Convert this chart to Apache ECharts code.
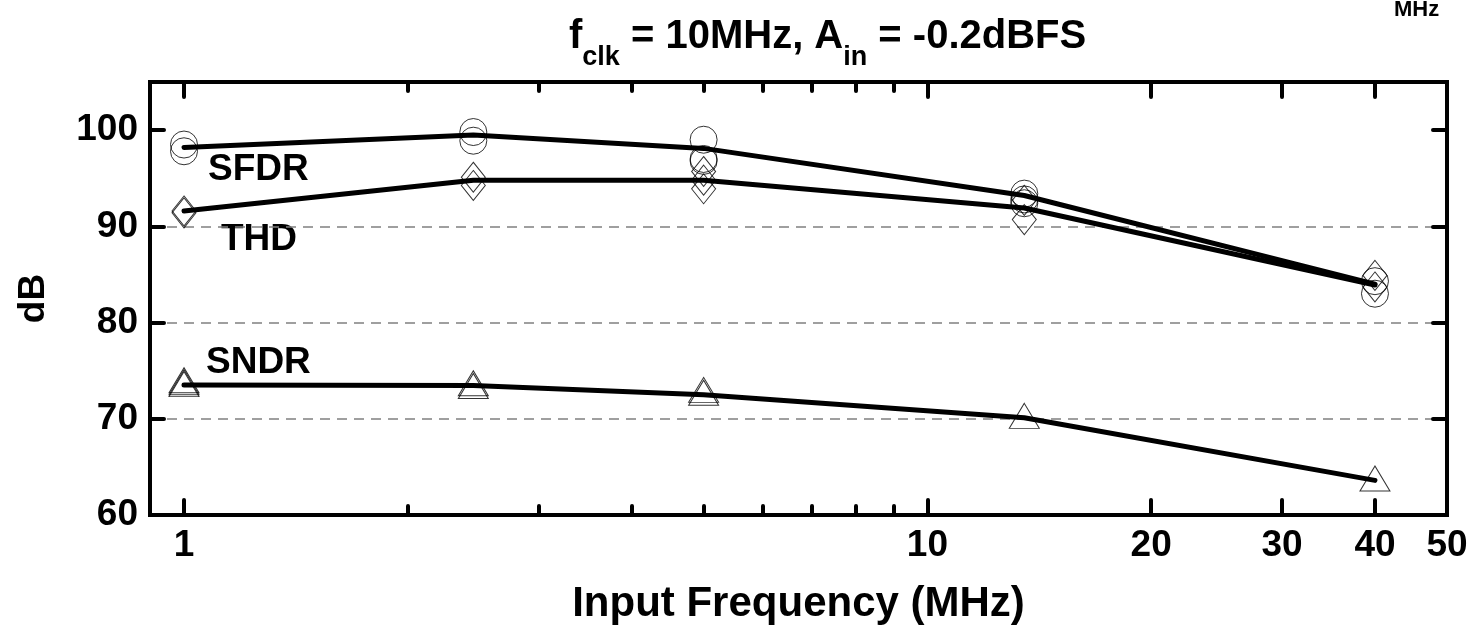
<!DOCTYPE html>
<html>
<head>
<meta charset="utf-8">
<script src="https://cdn.jsdelivr.net/npm/echarts@6/dist/echarts.min.js"></script>
<style>
  html, body { margin: 0; padding: 0; background: #fff; }
  #chart { width: 1473px; height: 630px; }
</style>
</head>
<body>
<div id="chart"></div>
<script>
// input frequencies (MHz)
const freqs = [1, 2.45, 5, 13.5, 40]
// lines through the measurements
const sfdrLine = [98.2, 99.5, 98.1, 93.2, 84.0]
const thdLine = [91.6, 94.8, 94.8, 91.9, 83.9]
const sndrLine = [73.5, 73.45, 72.5, 70.1, 63.6]
// individual measurements, one list per frequency
const sfdrPts = [[98.5, 97.8], [99.8, 98.9], [99.0, 97.0, 96.8], [93.4, 92.8, 92.4], [84.3, 83.0]]
const thdPts = [[91.6, 91.4], [95.1, 94.25], [95.7, 94.8, 93.9], [92.7, 90.7], [84.9, 83.7]]
const sndrPts = [[74.0, 73.8, 73.6], [73.7, 73.4], [73.0, 72.7], [70.3], [63.8]]
// axis ticks
const xMajor = [1, 10, 20, 30, 40]
const xMinor = [2, 3, 4, 5, 6, 7, 8, 9]
const xLabels = [1, 10, 20, 30, 40, 50]
const yTicks = [60, 70, 80, 90, 100]

const font = 'Liberation Sans, Arial, Helvetica, sans-serif'
const lx = v => Math.log10(v)
const xMin = lx(0.9), xMax = lx(50)

let chart = echarts.init(document.getElementById('chart'))

function linePairs(vals) {
  return freqs.map((f, i) => [lx(f), vals[i]])
}
function ptPairs(pts) {
  let out = []
  pts.forEach((list, i) => {
    list.forEach(v => out.push([lx(freqs[i]), v]))
  })
  return out
}

function xAxisDef(pos, ticks, len, withLabels) {
  return {
    type: 'value',
    position: pos,
    min: xMin,
    max: xMax,
    axisLine: {show: false, onZero: false},
    splitLine: {show: false},
    axisTick: {
      show: true, inside: true, length: len,
      customValues: ticks.map(lx),
      lineStyle: {color: '#000', width: 4, cap: 'round'}
    },
    axisLabel: withLabels ? {
      customValues: xLabels.map(lx),
      formatter: v => String(Math.round(Math.pow(10, v))),
      fontSize: 37, fontWeight: 'bold', fontFamily: font, color: '#000', margin: 12
    } : {show: false}
  }
}

function yAxisDef(pos, withLabels) {
  return {
    type: 'value',
    position: pos,
    min: 60,
    max: 105,
    interval: 10,
    axisLine: {show: false, onZero: false},
    axisTick: {
      show: true, inside: true, length: 14,
      customValues: yTicks,
      lineStyle: {color: '#000', width: 4, cap: 'round'}
    },
    axisLabel: withLabels ? {
      customValues: yTicks,
      fontSize: 37, fontWeight: 'bold', fontFamily: font, color: '#000', margin: 12
    } : {show: false},
    splitLine: {
      show: withLabels, showMinLine: false, showMaxLine: false,
      lineStyle: {color: '#808080', width: 1.5, type: [10, 7]}
    }
  }
}

let xAxes = [
  xAxisDef('bottom', xMajor, 15, true),
  xAxisDef('bottom', xMinor, 9, false),
  xAxisDef('top', xMajor, 15, false),
  xAxisDef('top', xMinor, 9, false)
]
Object.assign(xAxes[0], {
  name: 'Input Frequency (MHz)',
  nameLocation: 'middle',
  nameGap: 68,
  nameTextStyle: {fontSize: 42, fontWeight: 'bold', fontFamily: font, color: '#000'}
})

let yAxes = [yAxisDef('left', true), yAxisDef('right', false)]
Object.assign(yAxes[0], {
  name: 'dB',
  nameLocation: 'middle',
  nameGap: 98,
  nameRotate: 90,
  nameTextStyle: {fontSize: 37, fontWeight: 'bold', fontFamily: font, color: '#000'}
})

function markers(pts, symbol, size) {
  return {
    type: 'scatter',
    data: ptPairs(pts),
    symbol: symbol,
    symbolSize: size,
    itemStyle: {color: 'rgba(0,0,0,0)', borderColor: '#000', borderWidth: 1},
    z: 2,
    silent: true
  }
}
function meanLine(vals) {
  return {
    type: 'line',
    data: linePairs(vals),
    showSymbol: false,
    lineStyle: {color: '#000', width: 5, cap: 'round', join: 'round'},
    z: 3,
    silent: true
  }
}

function label(text, x, y) {
  return {
    type: 'text', left: x, top: y,
    style: {text: text, font: 'bold 37px ' + font, fill: '#000'}
  }
}

let option = {
  animation: false,
  backgroundColor: '#fff',
  title: {
    text: '{m|f}{s|clk}{m| = 10MHz, A}{s|in}{m| = -0.2dBFS}',
    left: 564,
    top: 7,
    textStyle: {
      rich: {
        m: {fontSize: 40, fontWeight: 'bold', fontFamily: font, color: '#000', lineHeight: 50},
        s: {fontSize: 27, fontWeight: 'bold', fontFamily: font, color: '#000', lineHeight: 27, padding: [42, 0, 0, 0]}
      }
    }
  },
  grid: {
    left: 150, right: 26, top: 82, bottom: 114,
    show: true, borderColor: '#000', borderWidth: 4, z: 3
  },
  xAxis: xAxes,
  yAxis: yAxes,
  graphic: [
    label('SFDR', 208, 151),
    label('THD', 221, 221),
    label('SNDR', 206, 344),
    {
      type: 'text', left: 1394, top: -1,
      style: {text: 'MHz', font: 'bold 22px ' + font, fill: '#000'}
    }
  ],
  series: [
    markers(sfdrPts, 'circle', 27),
    markers(thdPts, 'diamond', [24, 30]),
    markers(sndrPts, 'triangle', [30, 25]),
    meanLine(sfdrLine),
    meanLine(thdLine),
    meanLine(sndrLine)
  ]
}
chart.setOption(option)
</script>
</body>
</html>
